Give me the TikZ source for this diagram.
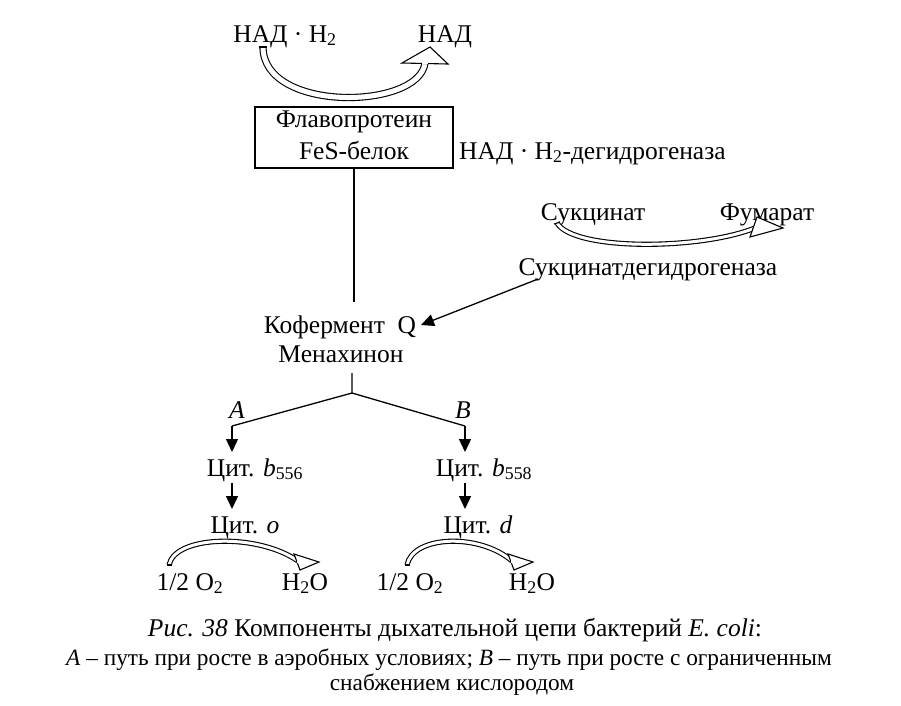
\documentclass[tikz,border=0pt]{standalone}
\usepackage{fontspec}
\setmainfont{Liberation Serif}
\usetikzlibrary{arrows.meta,calc}
\begin{document}
\begin{tikzpicture}[x=1pt,y=-1pt,
  font=\fontsize{25.5}{30}\selectfont,
  lbl/.style={inner sep=0pt, anchor=base},
  ln/.style={line width=1.3pt},
  arr/.style={line width=1.3pt,-{Triangle[length=13pt,width=12pt]}},
  hollow/.style={double, double distance=4pt, line width=1.1pt},
  headshape/.style={fill=white, draw, line width=1.1pt, line join=miter},
  capstyle/.style={font=\fontsize{23.3}{27}\selectfont},
  capbig/.style={font=\fontsize{25.5}{29}\selectfont}]
\useasboundingbox (0,0) rectangle (901,705);

% top NAD reaction
\node[lbl] (nadh) at (285,42) {НАД · Н\textsubscript{2}};
\node[lbl] (nad) at (445,42) {НАД};

% box
\node[draw, line width=1.3pt, minimum width=198pt, minimum height=61pt, inner sep=0pt] (box) at (354,137.5) {};
\node[lbl] (flavo) at (354,127) {Флавопротеин};
\node[lbl] (fes) at (354,159) {FeS-белок};
\node[lbl, anchor=base west] (nadhdh) at (459,159) {НАД · Н\textsubscript{2}-дегидрогеназа};

% hollow arrow NADH -> NAD
\coordinate (t1) at (263,47);
\coordinate (h1) at (425,63);
\draw[hollow, double distance=5pt] (t1) .. controls +(0,66) and +(-6,47) .. (h1);
\draw[line width=1.1pt] ($(t1)+(-3.6,0)$) -- ($(t1)+(3.6,0)$);
\draw[headshape] ($(h1)+(-23,0)$) -- (430,47) -- ($(h1)+(23,1)$) -- cycle;
\draw[white, line width=1.3pt] ($(h1)+(-2.7,0)$) -- ($(h1)+(2.7,0)$);

% succinate
\node[lbl] (succ) at (593,220) {Сукцинат};
\node[lbl] (fum) at (767,220) {Фумарат};
\node[lbl] (sdh) at (648,275) {Сукцинатдегидрогеназа};
\coordinate (t2) at (557,223);
\coordinate (h2) at (755,228);
\draw[hollow, double distance=3pt] (t2) .. controls +(17,28) and +(-55,22) .. (h2);
\draw[line width=1.1pt] ($(t2)+(-3,1)$) -- ($(t2)+(3,-1)$);
\draw[headshape] (757,217) -- (783,228) -- (750,237) -- cycle;
\draw[white, line width=1.3pt] ($(h2)+(0.5,-1.8)$) -- ($(h2)+(-0.5,1.8)$);

% coenzyme Q
\node[lbl] (kof) at (340,333) {Кофермент\ \ Q};
\node[lbl] (men) at (341,362) {Менахинон};

\coordinate (v1) at (354,302);
\draw[ln] (box.south) -- (v1);
\coordinate (sdhstart) at (538,279);
\coordinate (qtip) at (421,325);
\draw[arr] (sdhstart) -- (qtip);

% branches
\coordinate (q1) at (352,373);
\coordinate (fork) at (352,393);
\coordinate (la) at (232,426);
\coordinate (rb) at (465,426);
\node[lbl, font=\fontsize{25.5}{30}\selectfont\itshape] (labA) at (237,418) {A};
\node[lbl, font=\fontsize{25.5}{30}\selectfont\itshape] (labB) at (463,418) {B};
\draw[ln] (q1) -- (fork) -- (la);
\draw[ln] (fork) -- (rb);

\node[lbl] (cb1) at (255,476) {Цит. \textit{b}\textsubscript{556}};
\node[lbl] (cb2) at (484,476) {Цит. \textit{b}\textsubscript{558}};
\draw[arr] (la) -- ($(la)+(0,26)$);
\draw[arr] (rb) -- ($(rb)+(0,26)$);

\node[lbl] (co) at (245,533) {Цит. \textit{o}};
\node[lbl] (cd) at (478,533) {Цит. \textit{d}};
\draw[arr] ($(la)+(0,57)$) -- ($(la)+(0,83)$);
\draw[arr] ($(rb)+(0,57)$) -- ($(rb)+(0,83)$);

% bottom reactions
\node[lbl] (o1) at (190,590) {1/2 O\textsubscript{2}};
\node[lbl] (w1) at (305,590) {H\textsubscript{2}O};
\node[lbl] (o2) at (410,590) {1/2 O\textsubscript{2}};
\node[lbl] (w2) at (532,590) {H\textsubscript{2}O};

\coordinate (t3) at (169,565);
\coordinate (h3) at (298,561);
\draw[hollow, double distance=3pt] (t3) .. controls +(6,-30) and +(-40,-28) .. (h3);
\draw[line width=1.1pt] ($(t3)+(-2.5,0)$) -- ($(t3)+(2.5,0)$);
\draw[headshape] (294,554) -- (319,562) -- (300,570) -- cycle;
\draw[white, line width=1.3pt] ($(h3)+(0.6,-2)$) -- ($(h3)+(-0.6,2)$);

\coordinate (t4) at (407,565);
\coordinate (h4) at (512,561);
\draw[hollow, double distance=3pt] (t4) .. controls +(6,-30) and +(-32,-28) .. (h4);
\draw[line width=1.1pt] ($(t4)+(-2.5,0)$) -- ($(t4)+(2.5,0)$);
\draw[headshape] (508,554) -- (533,562) -- (514,570) -- cycle;
\draw[white, line width=1.3pt] ($(h4)+(0.6,-2)$) -- ($(h4)+(-0.6,2)$);

% caption
\node[lbl, capbig] (cap1) at (455,636) {\textit{Рис. 38} Компоненты дыхательной цепи бактерий \textit{E. coli}:};
\node[lbl, capstyle] (cap2) at (449,665) {\textit{A} – путь при росте в аэробных условиях; \textit{B} – путь при росте с ограниченным};
\node[lbl, capstyle] (cap3) at (452,690) {снабжением кислородом};
\end{tikzpicture}
\end{document}
